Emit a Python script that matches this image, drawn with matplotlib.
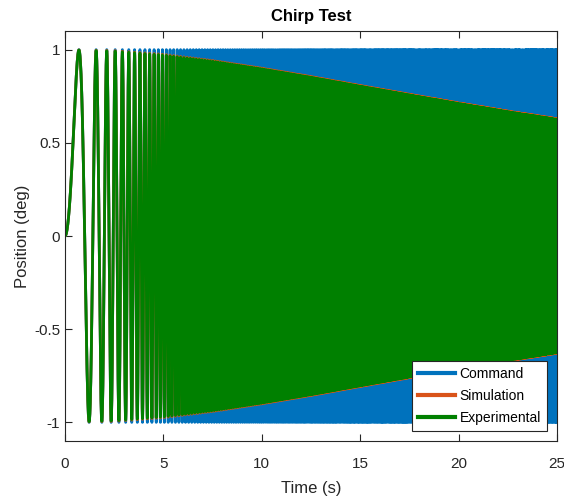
import numpy as np
import matplotlib
matplotlib.use("Agg")
import matplotlib.pyplot as plt

# ---- data ----
t_start, t_end = 0.0, 25.0          # seconds
sample_rate = 1000.0                # Hz
chirp_f0, chirp_f1 = 0.0, 25.0      # chirp frequency (Hz) at start / end
command_amp = 1.0
# amplitude envelope of the responses, read at these times
env_times = [0, 2.5, 5, 7.5, 10, 12.5, 15, 17.5, 20, 22.5, 25]
exp_env = [1.0, 0.992, 0.971, 0.938, 0.897, 0.852, 0.804, 0.757, 0.711, 0.667, 0.626]
sim_env = [1.0, 0.995, 0.975, 0.942, 0.901, 0.856, 0.808, 0.761, 0.715, 0.671, 0.630]
labels = ["Command", "Simulation", "Experimental"]
colors = ["#0072BD", "#D95319", "#008000"]
xticks = [0, 5, 10, 15, 20, 25]
yticks = [-1, -0.5, 0, 0.5, 1]
yticklabels = ["-1", "-0.5", "0", "0.5", "1"]

t = np.arange(t_start, t_end + 1e-9, 1.0 / sample_rate)
k = (chirp_f1 - chirp_f0) / (t_end - t_start)
phase = 2 * np.pi * (chirp_f0 * t + 0.5 * k * t ** 2)
command = command_amp * np.sin(phase)
simulation = np.interp(t, env_times, sim_env) * np.sin(phase)
experimental = np.interp(t, env_times, exp_env) * np.sin(phase)

plt.rcParams['font.family'] = ['Liberation Sans', 'DejaVu Sans']

fig = plt.figure(figsize=(5.64, 4.99), dpi=100)
ax = fig.add_axes([65 / 564, 1 - 441 / 499, (557 - 65) / 564, (441 - 31) / 499])

for y, lab, c in zip([command, simulation, experimental], labels, colors):
    ax.plot(t, y, color=c, lw=2, label=lab)

ax.set_xlim(0, 25)
ax.set_ylim(-1.1, 1.1)
ax.set_xticks(xticks)
ax.set_yticks(yticks)
ax.set_yticklabels(yticklabels)
ax.tick_params(direction='in', length=5, width=0.8, top=True, right=True,
               labelsize=11, colors='#262626')
ax.tick_params(axis='x', pad=11.5)
ax.tick_params(axis='y', pad=3.5)
for s in ax.spines.values():
    s.set_color('#262626')
    s.set_linewidth(0.8)

ax.set_title("Chirp Test", fontsize=12, fontweight='bold', pad=7)
ax.set_xlabel("Time (s)", fontsize=12, color='#262626', labelpad=7)
ax.set_ylabel("Position (deg)", fontsize=12, color='#262626', labelpad=3)

leg = ax.legend(loc='lower right', fontsize=10, frameon=True, fancybox=False,
                edgecolor='#262626', framealpha=1, borderaxespad=0.75,
                handlelength=2.7, handletextpad=0.3, labelspacing=0.58,
                borderpad=0.4)
leg.get_frame().set_linewidth(0.8)
for h in leg.get_lines():
    h.set_linewidth(3)

fig.savefig("out.png", dpi=100)
